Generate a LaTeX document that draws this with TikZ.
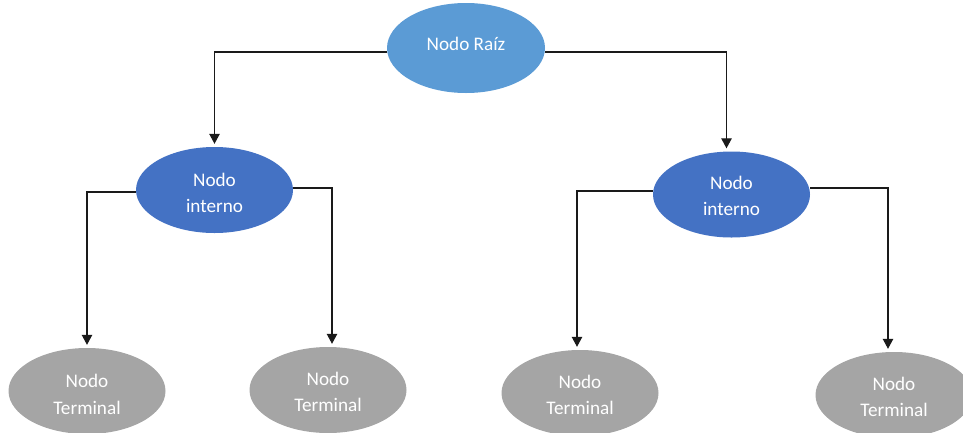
\documentclass[tikz,border=0pt]{standalone}
\usepackage{fontspec}
\setmainfont{Carlito}
\usetikzlibrary{shapes.geometric,arrows.meta}
\definecolor{rootblue}{HTML}{5B9BD5}
\definecolor{innerblue}{HTML}{4472C4}
\definecolor{leafgray}{HTML}{A5A5A5}
\definecolor{wire}{HTML}{1A1A1A}
\begin{document}
\begin{tikzpicture}[x=1pt,y=-1pt,
  treenode/.style={ellipse, inner sep=0pt, minimum width=157pt, minimum height=86pt},
  caption/.style={text=white, align=center, font=\fontsize{19.2}{26.5}\selectfont},
  rootnode/.style={treenode, fill=rootblue, minimum width=158pt, minimum height=90pt},
  innernode/.style={treenode, fill=innerblue},
  leafnode/.style={treenode, fill=leafgray},
  link/.style={draw=wire, line width=1.1pt, -{Triangle[width=10.5pt,length=10pt]}, shorten >=3pt}]
  \useasboundingbox (0,0) rectangle (963,432);

  % tree nodes, captions set slightly off centre
  \node[rootnode]  (root) at (466,48)
    [label={[caption,yshift=4pt]center:Nodo Raíz}] {};
  \node[innernode] (intL) at (214.5,190)
    [label={[caption,yshift=-3pt]center:Nodo\\interno}] {};
  \node[innernode] (intR) at (731.5,194.5)
    [label={[caption,yshift=-1.5pt]center:Nodo\\interno}] {};
  \node[leafnode]  (t1) at (87,391)
    [label={[caption,yshift=-3.5pt]center:Nodo\\Terminal}] {};
  \node[leafnode]  (t2) at (328,390)
    [label={[caption,yshift=-2pt]center:Nodo\\Terminal}] {};
  \node[leafnode]  (t3) at (580,393)
    [label={[caption,yshift=-2pt]center:Nodo\\Terminal}] {};
  \node[leafnode]  (t4) at (894,395)
    [label={[caption,yshift=-2pt]center:Nodo\\Terminal}] {};

  % connectors
  \draw[link] ([yshift=-4pt]root.west) -| (intL.north);
  \draw[link] ([yshift=-4pt]root.east) -| ([xshift=-5pt]intR.north);
  \draw[link] ([yshift=-2pt]intL.west) -| (t1.north);
  \draw[link] ([yshift=2pt]intL.east) -| ([xshift=4pt]t2.north);
  \draw[link] ([yshift=3.5pt]intR.west) -| ([xshift=-3pt]t3.north);
  \draw[link] ([yshift=6.5pt]intR.east) -| ([xshift=-6pt]t4.north);
\end{tikzpicture}
\end{document}
